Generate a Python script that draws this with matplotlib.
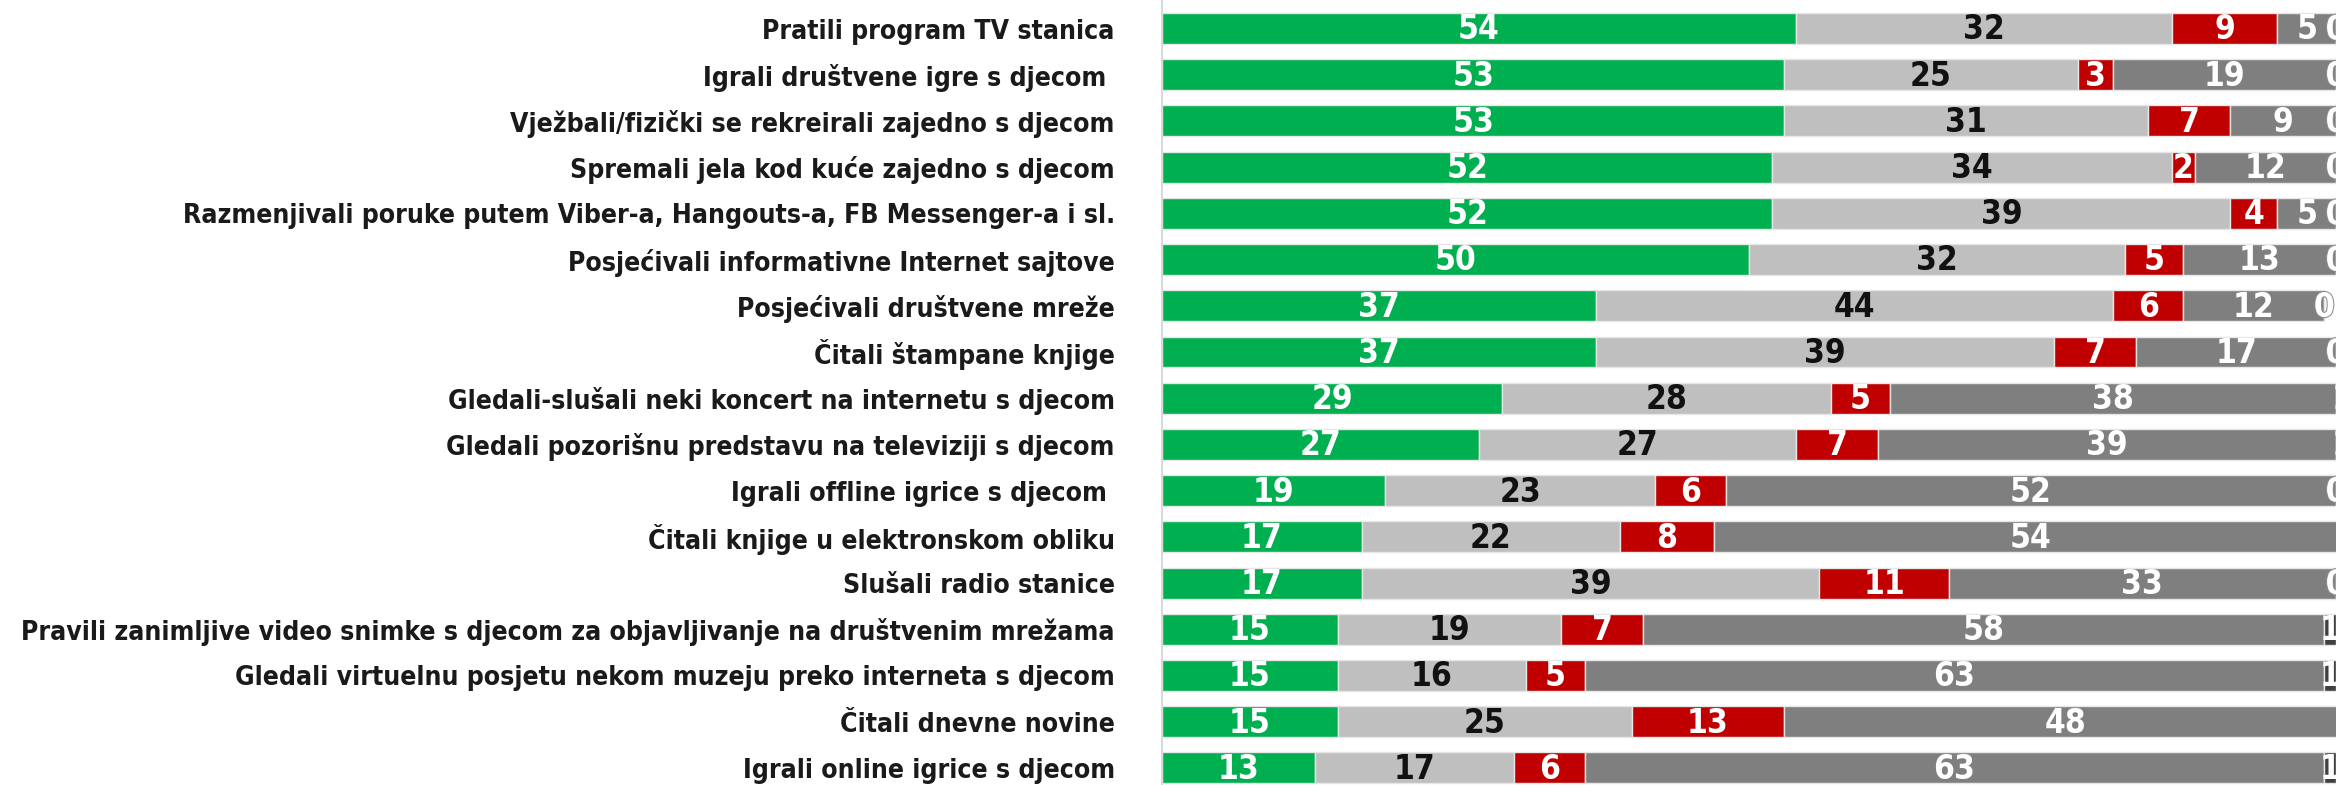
import numpy as np
import matplotlib.pyplot as plt
import matplotlib.patheffects as pe

plt.rcParams['font.family'] = ['DejaVu Sans']
plt.rcParams['font.stretch'] = 'condensed'

categories = [
    'Pratili program TV stanica',
    'Igrali društvene igre s djecom ',
    'Vježbali/fizički se rekreirali zajedno s djecom',
    'Spremali jela kod kuće zajedno s djecom',
    'Razmenjivali poruke putem Viber-a, Hangouts-a, FB Messenger-a i sl.',
    'Posjećivali informativne Internet sajtove',
    'Posjećivali društvene mreže',
    'Čitali štampane knjige',
    'Gledali-slušali neki koncert na internetu s djecom',
    'Gledali pozorišnu predstavu na televiziji s djecom',
    'Igrali offline igrice s djecom ',
    'Čitali knjige u elektronskom obliku',
    'Slušali radio stanice',
    'Pravili zanimljive video snimke s djecom za objavljivanje na društvenim mrežama',
    'Gledali virtuelnu posjetu nekom muzeju preko interneta s djecom',
    'Čitali dnevne novine',
    'Igrali online igrice s djecom',
]
s1 = [54, 53, 53, 52, 52, 50, 37, 37, 29, 27, 19, 17, 17, 15, 15, 15, 13]
s2 = [32, 25, 31, 34, 39, 32, 44, 39, 28, 27, 23, 22, 39, 19, 16, 25, 17]
s3 = [9, 3, 7, 2, 4, 5, 6, 7, 5, 7, 6, 8, 11, 7, 5, 13, 6]
s4 = [5, 19, 9, 12, 5, 13, 12, 17, 38, 39, 52, 54, 33, 58, 63, 48, 63]
s5 = [0, 0, 0, 0, 0, 0, 0, 0, 1, 1, 0, 0, 0, 1, 1, 0, 1]

series = [s1, s2, s3, s4, s5]
colors = ['#00B050', '#BFBFBF', '#C00000', '#7F7F7F', '#404040']
text_colors = ['white', '#111111', 'white', 'white', 'white']

fig = plt.figure(figsize=(23.36, 7.85), dpi=100)
ax = fig.add_axes([1162 / 2336, 0, 1 - 1162 / 2336, 1])

y = np.arange(len(categories))
left = np.zeros(len(categories))
for vals, c, tc in zip(series, colors, text_colors):
    vals = np.array(vals, dtype=float)
    ax.barh(y, vals, left=left, height=0.67, color=c, edgecolor='#E6E6E6', linewidth=1)
    for yi, (l, v) in enumerate(zip(left, vals)):
        t = ax.text(l + v / 2, yi + 0.03, f'{int(v)}', ha='center', va='center',
                    color=tc, fontsize=24, fontweight='bold')
        if v == 0:
            t.set_path_effects([pe.withStroke(linewidth=1.5, foreground='#8C8C8C')])
    left += vals

ax.set_xlim(0, 100)
ax.set_ylim(16.37, -0.617)
ax.set_yticks(y)
labels = ax.set_yticklabels(categories, fontsize=22, fontweight='bold', color='#1A1A1A')
ax.tick_params(axis='y', length=0, pad=34)
ax.set_xticks([])
for s in ['top', 'right', 'bottom']:
    ax.spines[s].set_visible(False)
ax.spines['left'].set_color('#D9D9D9')
ax.spines['left'].set_linewidth(1.5)

# shrink labels so the longest one is about as wide as in the original
r = fig.canvas.get_renderer()
w = max(lb.get_window_extent(r).width for lb in labels)
fs = 22 * min(1.0, 1090 / w)
for lb in labels:
    lb.set_fontsize(fs)

fig.savefig('out.png', dpi=100)
